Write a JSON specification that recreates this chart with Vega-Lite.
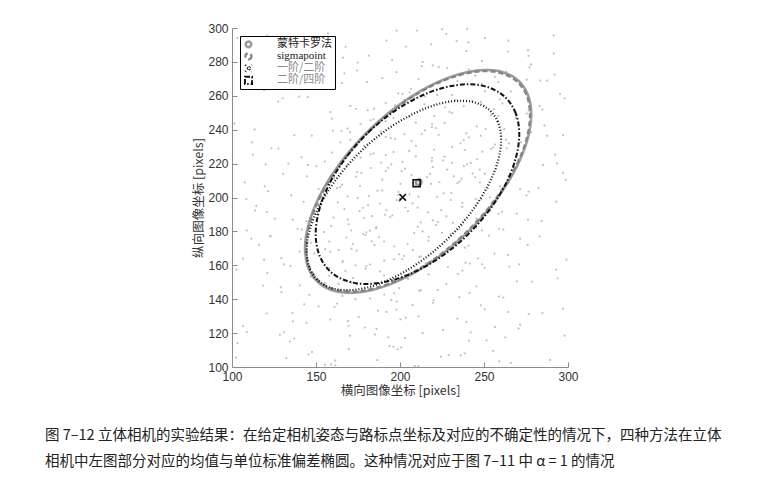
{
  "$schema": "https://vega.github.io/schema/vega-lite/v6.json",
  "width": 336,
  "height": 339,
  "autosize": {"type": "none"},
  "padding": {"left": 232, "top": 28, "right": 197, "bottom": 111},
  "background": "white",
  "config": {
    "view": {"stroke": null},
    "font": "Liberation Sans",
    "axis": {"labelOverlap": false, "grid": false},
    "legend": {
      "title": null,
      "orient": "top-left",
      "offset": 8,
      "padding": 3,
      "strokeColor": "#000000",
      "fillColor": "white",
      "labelFont": "Noto Sans CJK SC",
      "labelFontSize": 11,
      "labelColor": "#222222",
      "labelOffset": 23,
      "symbolSize": 114,
      "clipHeight": 10.7,
      "rowPadding": 0
    }
  },
  "title": {
    "text": ["图 7–12  立体相机的实验结果：在给定相机姿态与路标点坐标及对应的不确定性的情况下，四种方法在立体", "相机中左图部分对应的均值与单位标准偏差椭圆。这种情况对应于图 7–11 中 α = 1 的情况"],
    "orient": "bottom",
    "anchor": "start",
    "frame": "group",
    "dx": -187,
    "offset": 32,
    "font": "Noto Sans CJK SC",
    "fontSize": 14.5,
    "fontWeight": "normal",
    "color": "#222222",
    "lineHeight": 26
  },
  "datasets": {
    "pts": [
      {"x":103.2,"y":294.1},{"x":132.4,"y":285.3},{"x":157.1,"y":296.8},{"x":167.6,"y":288.9},{"x":195.3,"y":281.2},{"x":181.4,"y":283.7},{"x":210.2,"y":298.5},{"x":218.6,"y":290.4},{"x":225.1,"y":299.2},{"x":233.7,"y":292.3},{"x":248.8,"y":280.6},{"x":240.7,"y":291.5},{"x":276.2,"y":286.9},{"x":264.3,"y":286.1},{"x":291.5,"y":295.7},
      {"x":119.1,"y":263.3},{"x":122.6,"y":277.4},{"x":149.4,"y":264.2},{"x":174.8,"y":279.6},{"x":166.9,"y":273.2},{"x":197.9,"y":273.9},{"x":180.3,"y":268.1},{"x":211.1,"y":269.8},{"x":219.5,"y":277.9},{"x":205.7,"y":261.9},{"x":234.2,"y":268.6},{"x":228.1,"y":276.4},{"x":222.1,"y":260.4},{"x":256.6,"y":271.2},{"x":250.6,"y":262.7},{"x":244.8,"y":271.9},{"x":263.2,"y":274.1},{"x":272.4,"y":265.3},{"x":277.1,"y":276.8},{"x":287.6,"y":268.9},{"x":295.3,"y":261.2},
      {"x":101.4,"y":243.7},{"x":130.2,"y":258.5},{"x":158.6,"y":250.4},{"x":145.1,"y":259.2},{"x":173.7,"y":252.3},{"x":168.8,"y":240.6},{"x":180.7,"y":251.5},{"x":196.2,"y":246.9},{"x":184.3,"y":246.1},{"x":191.5,"y":255.7},{"x":219.1,"y":243.3},{"x":202.6,"y":257.4},{"x":209.4,"y":244.2},{"x":214.8,"y":259.6},{"x":226.9,"y":253.2},{"x":237.9,"y":253.9},{"x":220.3,"y":248.1},{"x":231.1,"y":249.8},{"x":259.5,"y":257.9},{"x":245.7,"y":241.9},{"x":254.2,"y":248.6},{"x":248.1,"y":256.4},{"x":262.1,"y":240.4},{"x":276.6,"y":251.2},{"x":270.6,"y":242.7},{"x":284.8,"y":251.9},{"x":283.2,"y":254.1},
      {"x":112.4,"y":225.3},{"x":137.1,"y":236.8},{"x":127.6,"y":228.9},{"x":155.3,"y":221.2},{"x":141.4,"y":223.7},{"x":170.2,"y":238.5},{"x":178.6,"y":230.4},{"x":165.1,"y":239.2},{"x":173.7,"y":232.3},{"x":188.8,"y":220.6},{"x":180.7,"y":231.5},{"x":196.2,"y":226.9},{"x":184.3,"y":226.1},{"x":191.5,"y":235.7},{"x":219.1,"y":223.3},{"x":202.6,"y":237.4},{"x":209.4,"y":224.2},{"x":214.8,"y":239.6},{"x":206.9,"y":233.2},{"x":237.9,"y":233.9},{"x":220.3,"y":228.1},{"x":231.1,"y":229.8},{"x":239.5,"y":237.9},{"x":225.7,"y":221.9},{"x":254.2,"y":228.6},{"x":248.1,"y":236.4},{"x":242.1,"y":220.4},{"x":256.6,"y":231.2},{"x":270.6,"y":222.7},{"x":264.8,"y":231.9},{"x":263.2,"y":234.1},{"x":292.4,"y":225.3},{"x":297.1,"y":236.8},
      {"x":107.6,"y":208.9},{"x":135.3,"y":201.2},{"x":121.4,"y":203.7},{"x":150.2,"y":218.5},{"x":158.6,"y":210.4},{"x":145.1,"y":219.2},{"x":173.7,"y":212.3},{"x":168.8,"y":200.6},{"x":160.7,"y":211.5},{"x":176.2,"y":206.9},{"x":164.3,"y":206.1},{"x":191.5,"y":215.7},{"x":199.1,"y":203.3},{"x":182.6,"y":217.4},{"x":189.4,"y":204.2},{"x":194.8,"y":219.6},{"x":206.9,"y":213.2},{"x":217.9,"y":213.9},{"x":200.3,"y":208.1},{"x":211.1,"y":209.8},{"x":219.5,"y":217.9},{"x":205.7,"y":201.9},{"x":234.2,"y":208.6},{"x":228.1,"y":216.4},{"x":222.1,"y":200.4},{"x":236.6,"y":211.2},{"x":230.6,"y":202.7},{"x":244.8,"y":211.9},{"x":243.2,"y":214.1},{"x":252.4,"y":205.3},{"x":257.1,"y":216.8},{"x":247.6,"y":208.9},{"x":275.3,"y":201.2},{"x":261.4,"y":203.7},{"x":270.2,"y":218.5},{"x":298.6,"y":210.4},{"x":285.1,"y":219.2},
      {"x":113.7,"y":192.3},{"x":108.8,"y":180.6},{"x":120.7,"y":191.5},{"x":136.2,"y":186.9},{"x":144.3,"y":186.1},{"x":151.5,"y":195.7},{"x":159.1,"y":183.3},{"x":142.6,"y":197.4},{"x":169.4,"y":184.2},{"x":174.8,"y":199.6},{"x":166.9,"y":193.2},{"x":177.9,"y":193.9},{"x":160.3,"y":188.1},{"x":191.1,"y":189.8},{"x":199.5,"y":197.9},{"x":185.7,"y":181.9},{"x":194.2,"y":188.6},{"x":188.1,"y":196.4},{"x":182.1,"y":180.4},{"x":216.6,"y":191.2},{"x":210.6,"y":182.7},{"x":204.8,"y":191.9},{"x":203.2,"y":194.1},{"x":212.4,"y":185.3},{"x":237.1,"y":196.8},{"x":227.6,"y":188.9},{"x":235.3,"y":181.2},{"x":221.4,"y":183.7},{"x":230.2,"y":198.5},{"x":258.6,"y":190.4},{"x":245.1,"y":199.2},{"x":253.7,"y":192.3},{"x":248.8,"y":180.6},{"x":260.7,"y":191.5},{"x":276.2,"y":186.9},{"x":284.3,"y":186.1},
      {"x":111.5,"y":175.7},{"x":119.1,"y":163.3},{"x":122.6,"y":177.4},{"x":129.4,"y":164.2},{"x":154.8,"y":179.6},{"x":146.9,"y":173.2},{"x":157.9,"y":173.9},{"x":140.3,"y":168.1},{"x":171.1,"y":169.8},{"x":179.5,"y":177.9},{"x":165.7,"y":161.9},{"x":174.2,"y":168.6},{"x":168.1,"y":176.4},{"x":182.1,"y":160.4},{"x":196.6,"y":171.2},{"x":190.6,"y":162.7},{"x":184.8,"y":171.9},{"x":183.2,"y":174.1},{"x":212.4,"y":165.3},{"x":217.1,"y":176.8},{"x":207.6,"y":168.9},{"x":215.3,"y":161.2},{"x":201.4,"y":163.7},{"x":230.2,"y":178.5},{"x":238.6,"y":170.4},{"x":225.1,"y":179.2},{"x":233.7,"y":172.3},{"x":248.8,"y":160.6},{"x":240.7,"y":171.5},{"x":256.2,"y":166.9},{"x":264.3,"y":166.1},{"x":271.5,"y":175.7},{"x":299.1,"y":163.3},
      {"x":102.6,"y":157.4},{"x":129.4,"y":144.2},{"x":134.8,"y":159.6},{"x":146.9,"y":153.2},{"x":157.9,"y":153.9},{"x":140.3,"y":148.1},{"x":171.1,"y":149.8},{"x":179.5,"y":157.9},{"x":165.7,"y":141.9},{"x":174.2,"y":148.6},{"x":188.1,"y":156.4},{"x":182.1,"y":140.4},{"x":196.6,"y":151.2},{"x":190.6,"y":142.7},{"x":204.8,"y":151.9},{"x":203.2,"y":154.1},{"x":212.4,"y":145.3},{"x":237.1,"y":156.8},{"x":227.6,"y":148.9},{"x":235.3,"y":141.2},{"x":241.4,"y":143.7},{"x":250.2,"y":158.5},{"x":278.6,"y":150.4},{"x":265.1,"y":159.2},{"x":293.7,"y":152.3},
      {"x":108.8,"y":120.6},{"x":120.7,"y":131.5},{"x":136.2,"y":126.9},{"x":144.3,"y":126.1},{"x":151.5,"y":135.7},{"x":179.1,"y":123.3},{"x":162.6,"y":137.4},{"x":169.4,"y":124.2},{"x":194.8,"y":139.6},{"x":186.9,"y":133.2},{"x":197.9,"y":133.9},{"x":200.3,"y":128.1},{"x":211.1,"y":129.8},{"x":219.5,"y":137.9},{"x":225.7,"y":121.9},{"x":234.2,"y":128.6},{"x":248.1,"y":136.4},{"x":242.1,"y":120.4},{"x":276.6,"y":131.2},{"x":270.6,"y":122.7},{"x":284.8,"y":131.9},
      {"x":103.2,"y":114.1},{"x":132.4,"y":105.3},{"x":137.1,"y":116.8},{"x":147.6,"y":108.9},{"x":155.3,"y":101.2},{"x":161.4,"y":103.7},{"x":170.2,"y":118.5},{"x":198.6,"y":110.4},{"x":185.1,"y":119.2},{"x":193.7,"y":112.3},{"x":208.8,"y":100.6},{"x":200.7,"y":111.5},{"x":236.2,"y":106.9},{"x":224.3,"y":106.1},{"x":251.5,"y":115.7},{"x":259.1,"y":103.3},{"x":262.6,"y":117.4},{"x":289.4,"y":104.2},
      {"x":109,"y":287},{"x":121,"y":295.5},{"x":155.5,"y":289.5},{"x":166,"y":282.5},{"x":198,"y":298.5},{"x":192,"y":292.5},{"x":203.5,"y":289},{"x":213.5,"y":280},{"x":227.5,"y":296.5},{"x":239.5,"y":286.5},{"x":240,"y":299.5},{"x":250.5,"y":294},{"x":276.5,"y":283.5},{"x":264.5,"y":292.5},{"x":291.5,"y":285},
      {"x":117,"y":274.5},{"x":122.5,"y":265.5},{"x":148.5,"y":279},{"x":174.5,"y":275},{"x":165.5,"y":267.5},{"x":199,"y":261.5},{"x":189.5,"y":270.5},{"x":201.5,"y":261},{"x":213,"y":277.5},{"x":206.5,"y":264},{"x":236,"y":272},{"x":231,"y":260.5},{"x":223,"y":277},{"x":258.5,"y":268},{"x":249,"y":267},{"x":241,"y":275.5},{"x":275.5,"y":269.5},{"x":266,"y":262.5},{"x":278,"y":278.5},{"x":292,"y":272.5},{"x":283.5,"y":269},
      {"x":113.5,"y":240},{"x":127.5,"y":256.5},{"x":159.5,"y":246.5},{"x":140,"y":259.5},{"x":170.5,"y":254},{"x":176.5,"y":243.5},{"x":184.5,"y":252.5},{"x":191.5,"y":245},{"x":197,"y":254.5},{"x":182.5,"y":245.5},{"x":208.5,"y":259},{"x":214.5,"y":255},{"x":205.5,"y":247.5},{"x":219,"y":241.5},{"x":229.5,"y":250.5},{"x":221.5,"y":241},{"x":233,"y":257.5},{"x":226.5,"y":244},{"x":256,"y":252},{"x":251,"y":240.5},{"x":243,"y":257},{"x":258.5,"y":248},{"x":269,"y":247},{"x":261,"y":255.5},{"x":275.5,"y":249.5},{"x":286,"y":242.5},{"x":298,"y":258.5},
      {"x":112,"y":232.5},{"x":123.5,"y":229},{"x":133.5,"y":220},{"x":147.5,"y":236.5},{"x":159.5,"y":226.5},{"x":160,"y":239.5},{"x":170.5,"y":234},{"x":176.5,"y":223.5},{"x":164.5,"y":232.5},{"x":191.5,"y":225},{"x":197,"y":234.5},{"x":182.5,"y":225.5},{"x":188.5,"y":239},{"x":194.5,"y":235},{"x":205.5,"y":227.5},{"x":219,"y":221.5},{"x":209.5,"y":230.5},{"x":201.5,"y":221},{"x":213,"y":237.5},{"x":226.5,"y":224},{"x":236,"y":232},{"x":231,"y":220.5},{"x":223,"y":237},{"x":238.5,"y":228},{"x":249,"y":227},{"x":241,"y":235.5},{"x":255.5,"y":229.5},{"x":246,"y":222.5},{"x":278,"y":238.5},{"x":272,"y":232.5},{"x":263.5,"y":229},{"x":293.5,"y":220},{"x":287.5,"y":236.5},
      {"x":119.5,"y":206.5},{"x":120,"y":219.5},{"x":130.5,"y":214},{"x":156.5,"y":203.5},{"x":144.5,"y":212.5},{"x":151.5,"y":205},{"x":177,"y":214.5},{"x":162.5,"y":205.5},{"x":168.5,"y":219},{"x":174.5,"y":215},{"x":165.5,"y":207.5},{"x":199,"y":201.5},{"x":189.5,"y":210.5},{"x":181.5,"y":201},{"x":193,"y":217.5},{"x":186.5,"y":204},{"x":216,"y":212},{"x":211,"y":200.5},{"x":203,"y":217},{"x":218.5,"y":208},{"x":209,"y":207},{"x":201,"y":215.5},{"x":235.5,"y":209.5},{"x":226,"y":202.5},{"x":238,"y":218.5},{"x":232,"y":212.5},{"x":223.5,"y":209},{"x":253.5,"y":200},{"x":247.5,"y":216.5},{"x":259.5,"y":206.5},{"x":240,"y":219.5},{"x":250.5,"y":214},{"x":276.5,"y":203.5},{"x":264.5,"y":212.5},{"x":271.5,"y":205},{"x":297,"y":214.5},{"x":282.5,"y":205.5},
      {"x":108.5,"y":199},{"x":114.5,"y":195},{"x":125.5,"y":187.5},{"x":139,"y":181.5},{"x":149.5,"y":190.5},{"x":141.5,"y":181},{"x":153,"y":197.5},{"x":146.5,"y":184},{"x":176,"y":192},{"x":171,"y":180.5},{"x":163,"y":197},{"x":178.5,"y":188},{"x":169,"y":187},{"x":181,"y":195.5},{"x":195.5,"y":189.5},{"x":186,"y":182.5},{"x":198,"y":198.5},{"x":192,"y":192.5},{"x":183.5,"y":189},{"x":213.5,"y":180},{"x":207.5,"y":196.5},{"x":219.5,"y":186.5},{"x":200,"y":199.5},{"x":210.5,"y":194},{"x":236.5,"y":183.5},{"x":224.5,"y":192.5},{"x":231.5,"y":185},{"x":237,"y":194.5},{"x":222.5,"y":185.5},{"x":248.5,"y":199},{"x":254.5,"y":195},{"x":245.5,"y":187.5},{"x":259,"y":181.5},{"x":269.5,"y":190.5},{"x":261.5,"y":181},{"x":293,"y":197.5},
      {"x":106.5,"y":164},{"x":116,"y":172},{"x":131,"y":160.5},{"x":123,"y":177},{"x":158.5,"y":168},{"x":149,"y":167},{"x":141,"y":175.5},{"x":155.5,"y":169.5},{"x":166,"y":162.5},{"x":178,"y":178.5},{"x":172,"y":172.5},{"x":163.5,"y":169},{"x":173.5,"y":160},{"x":187.5,"y":176.5},{"x":199.5,"y":166.5},{"x":180,"y":179.5},{"x":190.5,"y":174},{"x":196.5,"y":163.5},{"x":204.5,"y":172.5},{"x":211.5,"y":165},{"x":217,"y":174.5},{"x":202.5,"y":165.5},{"x":208.5,"y":179},{"x":234.5,"y":175},{"x":225.5,"y":167.5},{"x":239,"y":161.5},{"x":229.5,"y":170.5},{"x":241.5,"y":161},{"x":253,"y":177.5},{"x":246.5,"y":164},{"x":276,"y":172},{"x":271,"y":160.5},{"x":283,"y":177},
      {"x":118.5,"y":148},{"x":129,"y":147},{"x":121,"y":155.5},{"x":155.5,"y":149.5},{"x":146,"y":142.5},{"x":158,"y":158.5},{"x":172,"y":152.5},{"x":163.5,"y":149},{"x":173.5,"y":140},{"x":167.5,"y":156.5},{"x":199.5,"y":146.5},{"x":180,"y":159.5},{"x":190.5,"y":154},{"x":196.5,"y":143.5},{"x":204.5,"y":152.5},{"x":211.5,"y":145},{"x":217,"y":154.5},{"x":222.5,"y":145.5},{"x":228.5,"y":159},{"x":234.5,"y":155},{"x":245.5,"y":147.5},{"x":259,"y":141.5},{"x":269.5,"y":150.5},{"x":261.5,"y":141},{"x":293,"y":157.5},
      {"x":106.5,"y":124},{"x":136,"y":132},{"x":131,"y":120.5},{"x":143,"y":137},{"x":158.5,"y":128},{"x":169,"y":127},{"x":161,"y":135.5},{"x":175.5,"y":129.5},{"x":186,"y":122.5},{"x":198,"y":138.5},{"x":192,"y":132.5},{"x":203.5,"y":129},{"x":213.5,"y":120},{"x":207.5,"y":136.5},{"x":239.5,"y":126.5},{"x":220,"y":139.5},{"x":250.5,"y":134},{"x":256.5,"y":123.5},{"x":264.5,"y":132.5},{"x":271.5,"y":125},{"x":297,"y":134.5},
      {"x":102.5,"y":105.5},{"x":128.5,"y":119},{"x":134.5,"y":115},{"x":145.5,"y":107.5},{"x":159,"y":101.5},{"x":169.5,"y":110.5},{"x":161.5,"y":101},{"x":193,"y":117.5},{"x":186.5,"y":104},{"x":196,"y":112},{"x":211,"y":100.5},{"x":203,"y":117},{"x":238.5,"y":108},{"x":229,"y":107},{"x":241,"y":115.5},{"x":255.5,"y":109.5},{"x":266,"y":102.5},{"x":298,"y":118.5}
    ],
    "ell": [
      {"m":"蒙特卡罗法","o":0,"x":278.1,"y":249.1},{"m":"蒙特卡罗法","o":1,"x":275.8,"y":261.3},{"m":"蒙特卡罗法","o":2,"x":269.1,"y":270.0},{"m":"蒙特卡罗法","o":3,"x":258.4,"y":274.6},{"m":"蒙特卡罗法","o":4,"x":244.5,"y":274.7},{"m":"蒙特卡罗法","o":5,"x":228.2,"y":270.4},{"m":"蒙特卡罗法","o":6,"x":210.8,"y":262.0},{"m":"蒙特卡罗法","o":7,"x":193.4,"y":250.0},{"m":"蒙特卡罗法","o":8,"x":177.2,"y":235.2},{"m":"蒙特卡罗法","o":9,"x":163.2,"y":218.6},{"m":"蒙特卡罗法","o":10,"x":152.5,"y":201.5},{"m":"蒙特卡罗法","o":11,"x":145.8,"y":184.9},{"m":"蒙特卡罗法","o":12,"x":143.5,"y":170.0},{"m":"蒙特卡罗法","o":13,"x":145.8,"y":157.7},{"m":"蒙特卡罗法","o":14,"x":152.5,"y":149.0},{"m":"蒙特卡罗法","o":15,"x":163.2,"y":144.4},{"m":"蒙特卡罗法","o":16,"x":177.2,"y":144.3},{"m":"蒙特卡罗法","o":17,"x":193.4,"y":148.6},{"m":"蒙特卡罗法","o":18,"x":210.8,"y":157.0},{"m":"蒙特卡罗法","o":19,"x":228.2,"y":169.0},{"m":"蒙特卡罗法","o":20,"x":244.5,"y":183.8},{"m":"蒙特卡罗法","o":21,"x":258.4,"y":200.4},{"m":"蒙特卡罗法","o":22,"x":269.1,"y":217.5},{"m":"蒙特卡罗法","o":23,"x":275.8,"y":234.1},
      {"m":"sigmapoint","o":0,"x":277.4,"y":248.7},{"m":"sigmapoint","o":1,"x":275.2,"y":260.8},{"m":"sigmapoint","o":2,"x":268.5,"y":269.4},{"m":"sigmapoint","o":3,"x":257.9,"y":273.9},{"m":"sigmapoint","o":4,"x":244.1,"y":274.1},{"m":"sigmapoint","o":5,"x":228.0,"y":269.8},{"m":"sigmapoint","o":6,"x":210.8,"y":261.5},{"m":"sigmapoint","o":7,"x":193.6,"y":249.6},{"m":"sigmapoint","o":8,"x":177.5,"y":234.9},{"m":"sigmapoint","o":9,"x":163.7,"y":218.6},{"m":"sigmapoint","o":10,"x":153.1,"y":201.6},{"m":"sigmapoint","o":11,"x":146.4,"y":185.1},{"m":"sigmapoint","o":12,"x":144.2,"y":170.4},{"m":"sigmapoint","o":13,"x":146.4,"y":158.2},{"m":"sigmapoint","o":14,"x":153.1,"y":149.6},{"m":"sigmapoint","o":15,"x":163.7,"y":145.1},{"m":"sigmapoint","o":16,"x":177.5,"y":144.9},{"m":"sigmapoint","o":17,"x":193.6,"y":149.2},{"m":"sigmapoint","o":18,"x":210.8,"y":157.5},{"m":"sigmapoint","o":19,"x":228.0,"y":169.4},{"m":"sigmapoint","o":20,"x":244.1,"y":184.1},{"m":"sigmapoint","o":21,"x":257.9,"y":200.5},{"m":"sigmapoint","o":22,"x":268.5,"y":217.4},{"m":"sigmapoint","o":23,"x":275.2,"y":233.9},
      {"m":"一阶/二阶","o":0,"x":260.2,"y":234.1},{"m":"一阶/二阶","o":1,"x":258.2,"y":244.7},{"m":"一阶/二阶","o":2,"x":252.4,"y":252.3},{"m":"一阶/二阶","o":3,"x":243.2,"y":256.4},{"m":"一阶/二阶","o":4,"x":231.3,"y":256.8},{"m":"一阶/二阶","o":5,"x":217.3,"y":253.4},{"m":"一阶/二阶","o":6,"x":202.3,"y":246.4},{"m":"一阶/二阶","o":7,"x":187.3,"y":236.4},{"m":"一阶/二阶","o":8,"x":173.4,"y":223.9},{"m":"一阶/二阶","o":9,"x":161.4,"y":209.9},{"m":"一阶/二阶","o":10,"x":152.2,"y":195.3},{"m":"一阶/二阶","o":11,"x":146.4,"y":181.2},{"m":"一阶/二阶","o":12,"x":144.4,"y":168.3},{"m":"一阶/二阶","o":13,"x":146.4,"y":157.7},{"m":"一阶/二阶","o":14,"x":152.2,"y":150.1},{"m":"一阶/二阶","o":15,"x":161.4,"y":146.0},{"m":"一阶/二阶","o":16,"x":173.4,"y":145.6},{"m":"一阶/二阶","o":17,"x":187.3,"y":149.0},{"m":"一阶/二阶","o":18,"x":202.3,"y":156.0},{"m":"一阶/二阶","o":19,"x":217.3,"y":166.0},{"m":"一阶/二阶","o":20,"x":231.3,"y":178.5},{"m":"一阶/二阶","o":21,"x":243.2,"y":192.5},{"m":"一阶/二阶","o":22,"x":252.4,"y":207.1},{"m":"一阶/二阶","o":23,"x":258.2,"y":221.2},
      {"m":"二阶/四阶","o":0,"x":271.0,"y":237.4},{"m":"二阶/四阶","o":1,"x":268.9,"y":249.6},{"m":"二阶/四阶","o":2,"x":262.9,"y":258.9},{"m":"二阶/四阶","o":3,"x":253.2,"y":264.8},{"m":"二阶/四阶","o":4,"x":240.7,"y":266.8},{"m":"二阶/四阶","o":5,"x":226.1,"y":264.8},{"m":"二阶/四阶","o":6,"x":210.4,"y":258.9},{"m":"二阶/四阶","o":7,"x":194.7,"y":249.6},{"m":"二阶/四阶","o":8,"x":180.1,"y":237.4},{"m":"二阶/四阶","o":9,"x":167.6,"y":223.2},{"m":"二阶/四阶","o":10,"x":157.9,"y":207.9},{"m":"二阶/四阶","o":11,"x":151.9,"y":192.7},{"m":"二阶/四阶","o":12,"x":149.8,"y":178.5},{"m":"二阶/四阶","o":13,"x":151.9,"y":166.3},{"m":"二阶/四阶","o":14,"x":157.9,"y":156.9},{"m":"二阶/四阶","o":15,"x":167.6,"y":151.0},{"m":"二阶/四阶","o":16,"x":180.1,"y":149.0},{"m":"二阶/四阶","o":17,"x":194.7,"y":151.0},{"m":"二阶/四阶","o":18,"x":210.4,"y":156.9},{"m":"二阶/四阶","o":19,"x":226.1,"y":166.2},{"m":"二阶/四阶","o":20,"x":240.7,"y":178.4},{"m":"二阶/四阶","o":21,"x":253.2,"y":192.6},{"m":"二阶/四阶","o":22,"x":262.9,"y":207.9},{"m":"二阶/四阶","o":23,"x":268.9,"y":223.2}
    ],
    "ctr": [
      {"k":"蒙特卡罗法","x":211.4,"y":209.2},
      {"k":"sigmapoint","x":211.0,"y":209.0},
      {"k":"一阶/二阶","x":201.6,"y":200.1},
      {"k":"二阶/四阶","x":209.9,"y":208.4}
    ]
  },
  "encoding": {
    "x": {
      "field": "x", "type": "quantitative",
      "scale": {"domain": [100, 300], "nice": false, "zero": false},
      "axis": {
        "title": "横向图像坐标 [pixels]",
        "values": [100, 150, 200, 250, 300],
        "grid": false,
        "domainColor": "#8c8c8c",
        "tickColor": "#8c8c8c",
        "tickSize": -5,
        "labelFlush": false,
        "labelOverlap": false,
        "labelFont": "Liberation Sans",
        "labelFontSize": 12,
        "labelColor": "#333333",
        "labelPadding": 9,
        "titleFont": "Noto Sans CJK SC",
        "titleFontSize": 12.5,
        "titleFontWeight": "normal",
        "titleColor": "#333333",
        "titlePadding": 2
      }
    },
    "y": {
      "field": "y", "type": "quantitative",
      "scale": {"domain": [100, 300], "nice": false, "zero": false},
      "axis": {
        "title": "纵向图像坐标 [pixels]",
        "values": [100, 120, 140, 160, 180, 200, 220, 240, 260, 280, 300],
        "grid": false,
        "domainColor": "#8c8c8c",
        "tickColor": "#8c8c8c",
        "tickSize": -5,
        "labelFlush": false,
        "labelOverlap": false,
        "labelFont": "Liberation Sans",
        "labelFontSize": 12,
        "labelColor": "#333333",
        "labelPadding": 9,
        "titleFont": "Noto Sans CJK SC",
        "titleFontSize": 12.5,
        "titleFontWeight": "normal",
        "titleColor": "#333333",
        "titlePadding": 2
      }
    }
  },
  "layer": [
    {
      "data": {"name": "pts"},
      "mark": {"type": "point", "filled": true, "size": 5, "color": "#c2c2c2", "opacity": 1}
    },
    {
      "data": {"name": "ell"},
      "mark": {"type": "line", "interpolate": "cardinal-closed"},
      "encoding": {
        "order": {"field": "o", "type": "quantitative"},
        "color": {
          "field": "m", "type": "nominal",
          "scale": {"domain": ["蒙特卡罗法", "sigmapoint", "一阶/二阶", "二阶/四阶"], "range": ["#9c9c9c", "#858585", "#111111", "#111111"]},
          "legend": {
            "symbolType": {"expr": "datum.value === '蒙特卡罗法' ? 'M-1,0L15.9,0M6.85,-0.6L8.05,-0.6L8.05,0.6L6.85,0.6Z' : datum.value === 'sigmapoint' ? 'M-1,0L5.65,0M9.25,0L15.9,0M5.65,0A1.8,1.8 0 1,1 9.25,0A1.8,1.8 0 1,1 5.65,0' : datum.value === '一阶/二阶' ? 'M-1,0L15.9,0M5.65,-1.8L9.25,1.8M5.65,1.8L9.25,-1.8' : 'M-1,0L15.9,0M5.95,-1.5L8.95,-1.5L8.95,1.5L5.95,1.5Z'"},
            "encode": {
              "labels": {"update": {"text": {"signal": "datum.label + '\u3000\u3000\u2002'"}, "fill": {"signal": "datum.label === '一阶/二阶' || datum.label === '二阶/四阶' ? '#8a8a8a' : '#222222'"}, "font": {"signal": "datum.label === 'sigmapoint' ? 'Liberation Serif' : 'Noto Sans CJK SC'"}}}
            }
          }
        },
        "strokeDash": {
          "field": "m", "type": "nominal",
          "scale": {"domain": ["蒙特卡罗法", "sigmapoint", "一阶/二阶", "二阶/四阶"], "range": [[1, 0], [5, 3], [1, 2], [5, 2, 1.5, 2]]}
        },
        "strokeWidth": {
          "field": "m", "type": "nominal",
          "scale": {"domain": ["蒙特卡罗法", "sigmapoint", "一阶/二阶", "二阶/四阶"], "range": [2.6, 2, 1, 1.2]}
        }
      }
    },
    {
      "data": {"name": "ctr"},
      "mark": {"type": "point", "filled": false, "strokeWidth": 1.6, "opacity": 1},
      "encoding": {
        "stroke": {
          "field": "k", "type": "nominal", "legend": null,
          "scale": {"domain": ["蒙特卡罗法", "sigmapoint", "一阶/二阶", "二阶/四阶"], "range": ["#a0a0a0", "#909090", "#111111", "#111111"]}
        },
        "shape": {
          "field": "k", "type": "nominal", "legend": null,
          "scale": {"domain": ["蒙特卡罗法", "sigmapoint", "一阶/二阶", "二阶/四阶"], "range": ["circle", "circle", "M-1,-1L1,1M-1,1L1,-1", "square"]}
        },
        "size": {
          "field": "k", "type": "nominal", "legend": null,
          "scale": {"domain": ["蒙特卡罗法", "sigmapoint", "一阶/二阶", "二阶/四阶"], "range": [30, 50, 20, 30]}
        }
      }
    }
  ]
}
